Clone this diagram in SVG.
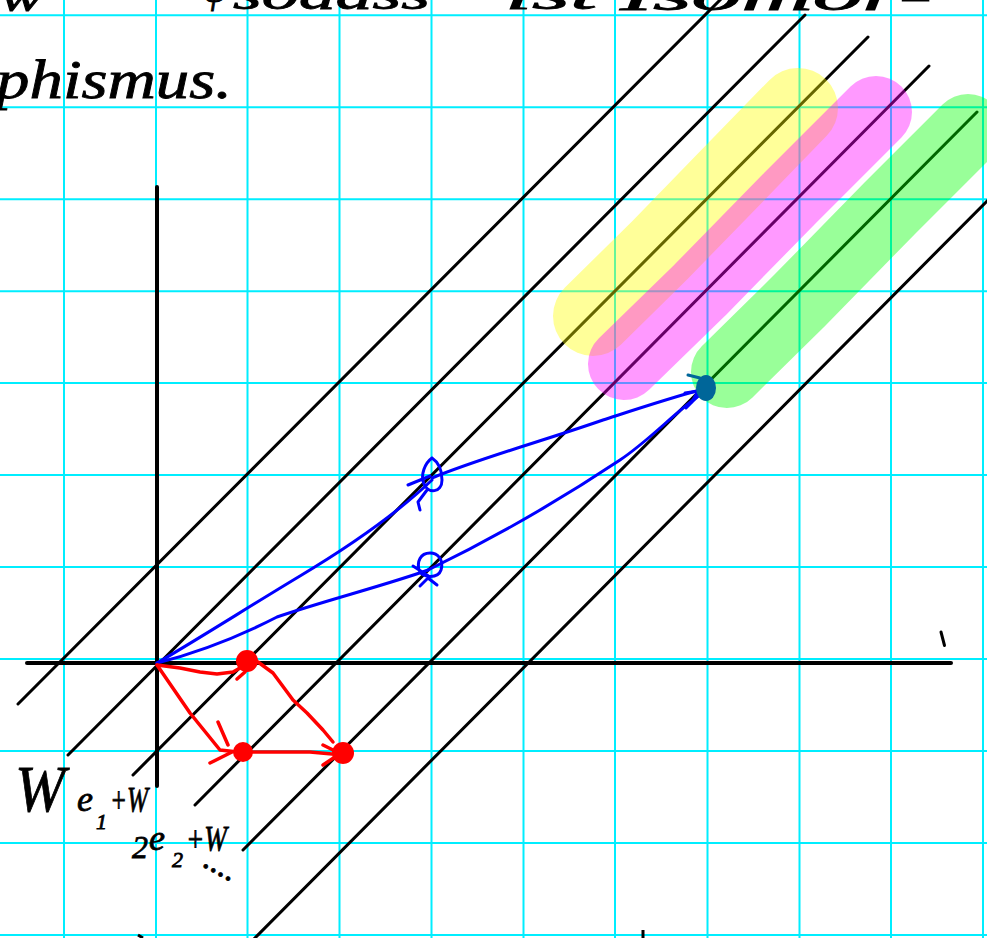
<svg xmlns="http://www.w3.org/2000/svg" width="987" height="938" viewBox="0 0 987 938">
<style>
.grid line{stroke:#00eeff;stroke-width:2}
.diag{stroke:#000;stroke-width:3;stroke-linecap:round;fill:none}
.axis{stroke:#000;stroke-width:4;stroke-linecap:round;fill:none}
.band{fill:none;stroke-linecap:round;stroke-linejoin:round;opacity:0.4}
.blue{fill:none;stroke:#0000ff;stroke-width:3;stroke-linecap:round;stroke-linejoin:round}
.red{fill:none;stroke:#ff0000;stroke-width:3.5;stroke-linecap:round;stroke-linejoin:round}
.hand{font-family:"Liberation Serif","DejaVu Serif",serif;font-style:italic;fill:#000;stroke:#000;stroke-width:0.8}
</style>
<rect width="987" height="938" fill="#fff"/>
<g id="grid" class="grid">
<line x1="64" y1="0" x2="64" y2="938"/><line x1="156" y1="0" x2="156" y2="938"/><line x1="247.5" y1="0" x2="247.5" y2="938"/><line x1="339.5" y1="0" x2="339.5" y2="938"/><line x1="431.5" y1="0" x2="431.5" y2="938"/><line x1="523.5" y1="0" x2="523.5" y2="938"/><line x1="615" y1="0" x2="615" y2="938"/><line x1="707.5" y1="0" x2="707.5" y2="938"/><line x1="799.5" y1="0" x2="799.5" y2="938"/><line x1="891" y1="0" x2="891" y2="938"/><line x1="983" y1="0" x2="983" y2="938"/>
<line x1="0" y1="15.3" x2="987" y2="15.3"/><line x1="0" y1="107.3" x2="987" y2="107.3"/><line x1="0" y1="199.2" x2="987" y2="199.2"/><line x1="0" y1="291.2" x2="987" y2="291.2"/><line x1="0" y1="383.1" x2="987" y2="383.1"/><line x1="0" y1="475" x2="987" y2="475"/><line x1="0" y1="567" x2="987" y2="567"/><line x1="0" y1="659" x2="987" y2="659"/><line x1="0" y1="751" x2="987" y2="751"/><line x1="0" y1="843" x2="987" y2="843"/><line x1="0" y1="935" x2="987" y2="935"/>
</g>
<g id="text-top">
<text class="hand" x="0" y="11" font-size="44" textLength="43" lengthAdjust="spacingAndGlyphs">w</text>
<text class="hand" x="203" y="2" font-size="40">ψ</text>
<text class="hand" x="233" y="9" font-size="44" textLength="197" lengthAdjust="spacingAndGlyphs">sodass</text>
<text class="hand" x="505" y="9" font-size="44" textLength="92" lengthAdjust="spacingAndGlyphs">ist</text>
<text class="hand" x="620" y="10" font-size="44" textLength="312" lengthAdjust="spacingAndGlyphs">Isomor-</text>
<text class="hand" x="-4" y="98" font-size="54" textLength="236" lengthAdjust="spacingAndGlyphs">phismus.</text>
</g>
<g id="axes">
<path class="axis" d="M157,187 L157,786"/>
<path class="axis" d="M27,663 L951,663"/>
<path class="diag" d="M941,632 L944.5,645.5"/>
</g>
<g id="cosets">
<path class="diag" d="M18,704 L722,-2"/>
<path class="diag" d="M68,755 L805,15"/>
<path class="diag" d="M133,775 L868,37"/>
<path class="diag" d="M195,805 L929,66"/>
<path class="diag" d="M243,850 L977,112"/>
<path class="diag" d="M253,940 L992,196"/>
</g>
<g id="highlights">
<path class="band" stroke="#ffff00" stroke-width="80" d="M593,316 L660,250 L730,178 L798,108"/>
<path class="band" stroke="#ff00ff" stroke-width="72" d="M624,364 L700,290 L790,198 L876,112"/>
<path class="band" stroke="#00ff00" stroke-width="72" d="M727,372 L800,300 L890,208 L968,130"/>
</g>
<g id="connectors">
<path class="blue" d="M157,663 C200,638 250,606 300,576 C340,552 390,520 432,480"/>
<path class="blue" d="M432,478 C480,458 540,442 603,420 C640,408 670,398 700,390"/>
<path class="blue" d="M157,663 C200,652 240,636 277,617 C320,602 390,584 428,570"/>
<path class="blue" d="M428,570 C500,535 560,500 620,460 C650,440 675,412 700,395"/>
<path class="blue" d="M432,458 C425,463 420,475 424,484 C428,494 442,493 442,480 C442,470 438,462 432,458 M408,485 L430,476 M427,490 L418,502 L420,510"/>
<path class="blue" d="M430,553 C420,553 417,562 419,570 C422,578 438,579 441,570 C444,560 438,553 430,553 M413,566 L430,577 M420,586 L428,578 L437,585"/>
<path class="blue" d="M685,393 L698,391 L692,402 M686,408 L697,397"/>
<path class="red" d="M157,665 L180,668 L200,672 L217,674 L233,672 L240,668"/>
<path class="red" d="M157,665 L190,713 L220,750 L238,752"/>
<path class="red" d="M258,662 L273,673 L293,700 L307,713 L323,730 L333,742"/>
<path class="red" d="M252,752 L310,752 L332,754"/>
<path class="red" d="M218,722 L228,745 M210,763 L232,752 M245,672 L237,679"/>
<path class="red" d="M323,745 L337,752 M323,765 L335,757"/>
</g>
<g id="points">
<circle cx="247" cy="661" r="11" fill="#ff0000"/>
<circle cx="243" cy="752" r="10" fill="#ff0000"/>
<circle cx="343" cy="753" r="11" fill="#ff0000"/>
<ellipse cx="706" cy="388" rx="10" ry="13" fill="#006699"/>
<path d="M688,375 L700,378" stroke="#006699" stroke-width="3" stroke-linecap="round"/>
</g>
<g id="labels">
<text class="hand" x="15" y="811" font-size="66" textLength="50" lengthAdjust="spacingAndGlyphs">W</text>
<text class="hand" x="77" y="811" font-size="36">e</text>
<text class="hand" x="96" y="829" font-size="22">1</text>
<text class="hand" x="110" y="812" font-size="36" textLength="38" lengthAdjust="spacingAndGlyphs">+W</text>
<text class="hand" x="132" y="858" font-size="32">2</text>
<text class="hand" x="149" y="850" font-size="36">e</text>
<text class="hand" x="172" y="867" font-size="22">2</text>
<text class="hand" x="186" y="851" font-size="36" textLength="41" lengthAdjust="spacingAndGlyphs">+W</text>
<text class="hand" x="202" y="866" font-size="34" transform="rotate(29 202 866)">....</text>
</g>
<path d="M138,935 L143,938 M643,930 L643,938" stroke="#000" stroke-width="3"/>
</svg>
